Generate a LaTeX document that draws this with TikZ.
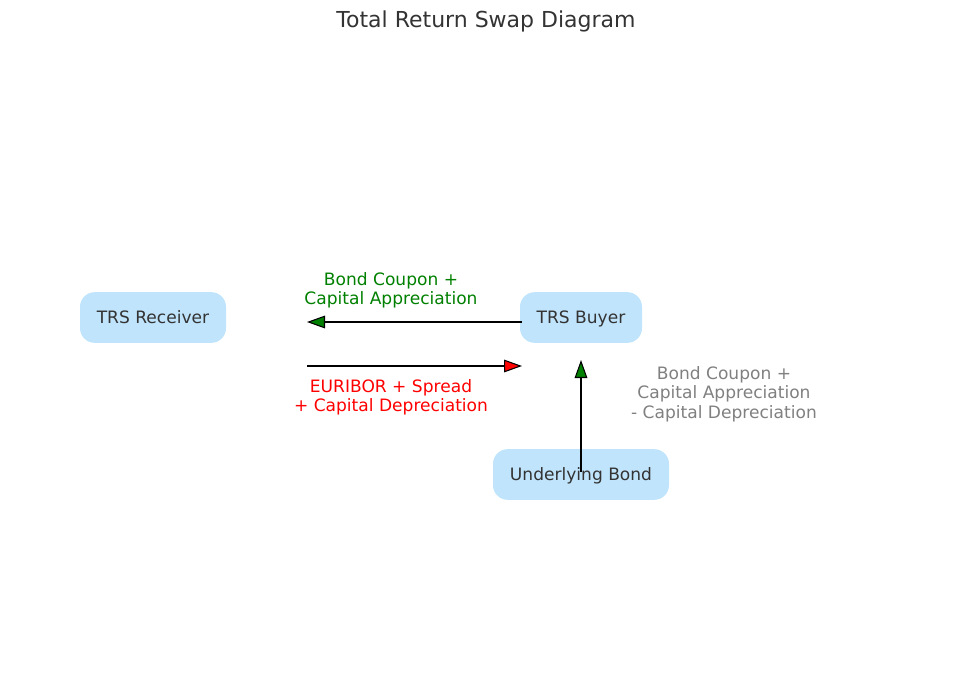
\documentclass[tikz,border=0pt]{standalone}
\usepackage{fontspec}
\setmainfont{DejaVu Sans}
\usetikzlibrary{arrows.meta,positioning}
\definecolor{boxblue}{RGB}{192,228,252}
\definecolor{textgray}{RGB}{51,51,51}
\definecolor{flowgreen}{RGB}{0,128,0}
\begin{document}
\begin{tikzpicture}[
x=0.75pt, y=-0.75pt,
partynode/.style={rectangle, rounded corners=11pt, fill=boxblue, text=textgray, minimum height=38pt, text height=11pt, text depth=2.5pt, font=\fontsize{12.8}{15}\selectfont},
flowlabel/.style={align=center, font=\fontsize{12.8}{14.6}\selectfont},
flowline/.style={line width=2.2pt},
greentip/.style={-{Triangle[length=13.5pt, width=9.5pt, line width=0.8pt, fill=flowgreen]}},
redtip/.style={-{Triangle[length=13.5pt, width=9.5pt, line width=0.8pt, fill=red]}},
]
\useasboundingbox (0,0) rectangle (972,679);

%Title
\node[text=textgray, font=\fontsize{16.5}{19}\selectfont] (title) at (486,21) {Total Return Swap Diagram};

%Nodes
\node[partynode, minimum width=109.5pt] (receiver) at (153,317.5) {TRS Receiver};
\node[partynode, minimum width=91.5pt] (buyer) at (581,317.5) {TRS Buyer};
\node[partynode, minimum width=132pt] (bond) at (581,474.5) {Underlying Bond};

%Arrow ends
\coordinate (topstart) at (522,322);
\coordinate (topend) at (307,322);
\coordinate (lowstart) at (307,366);
\coordinate (lowend) at (522,366);
\coordinate (bondtop) at (581,360);
\coordinate (bondfoot) at (581,472);

%Lines
\draw[flowline, greentip] (topstart) -- (topend);
\draw[flowline, redtip] (lowstart) -- (lowend);
\draw[flowline, greentip] (bondfoot) -- (bondtop);

%Labels
\node[flowlabel, text=flowgreen] (toplabel) at (391,290.5) {Bond Coupon +\\Capital Appreciation};
\node[flowlabel, text=red] (lowlabel) at (391,397.5) {EURIBOR + Spread\\+ Capital Depreciation};
\node[flowlabel, text=gray] (bondlabel) at (724,394) {Bond Coupon +\\Capital Appreciation\\- Capital Depreciation};
\end{tikzpicture}
\end{document}
